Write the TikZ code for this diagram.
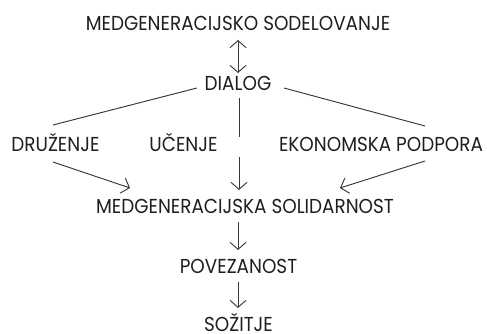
\documentclass[tikz,border=0pt]{standalone}
\usepackage{fontspec}
\setmainfont[FakeStretch=0.91]{Poppins}
\usetikzlibrary{arrows.meta,calc}
\begin{document}
\begin{tikzpicture}[x=1pt,y=1pt,
  lbl/.style={inner sep=0pt, anchor=base, text=black!88, font=\fontsize{20.2}{23}\selectfont},
  conn/.style={draw=black!78, line width=0.95pt},
  arr/.style={conn, -{Straight Barb[length=7pt,width=16pt]}},
  darr/.style={conn, {Straight Barb[length=7pt,width=16pt]}-{Straight Barb[length=7pt,width=16pt]}}]
\useasboundingbox (0,0) rectangle (487,334);
\node[lbl] (top) at (238,303) {MEDGENERACIJSKO SODELOVANJE};
\node[lbl] (dialog) at (238,243) {DIALOG};
\node[lbl] (druz) at (55.5,182) {DRUŽENJE};
\node[lbl] (ucen) at (183.5,182) {UČENJE};
\node[lbl] (ekon) at (381,182) {EKONOMSKA PODPORA};
\node[lbl] (solid) at (245,120) {MEDGENERACIJSKA SOLIDARNOST};
\node[lbl] (povez) at (238.5,60) {POVEZANOST};
\node[lbl] (soz) at (238.5,2) {SOŽITJE};
\coordinate (mid) at ($(dialog.base)+(1,-46)$);
\draw[darr] ($(top.base)+(0,-9)$) -- ($(dialog.base)+(0,18)$);
\draw[conn] ($(dialog.base)+(-41,3)$) -- ($(druz.base)+(-2.5,27)$);
\draw[conn] ($(dialog.base)+(46,3)$) -- ($(ekon.base)+(44,26)$);
\draw[conn] ($(dialog.base)+(1,-7)$) -- (mid);
\draw[arr] ($(druz.base)+(-2.5,-10)$) -- ($(solid.base)+(-115,26)$);
\draw[arr] ($(mid)+(0,-20)$) -- ($(solid.base)+(-6,24)$);
\draw[arr] ($(ekon.base)+(44,-9)$) -- ($(solid.base)+(95,26)$);
\draw[arr] ($(solid.base)+(-7,-8)$) -- ($(povez.base)+(-0.5,24)$);
\draw[arr] ($(povez.base)+(-0.5,-8)$) -- ($(soz.base)+(-0.5,24)$);
\end{tikzpicture}
\end{document}
